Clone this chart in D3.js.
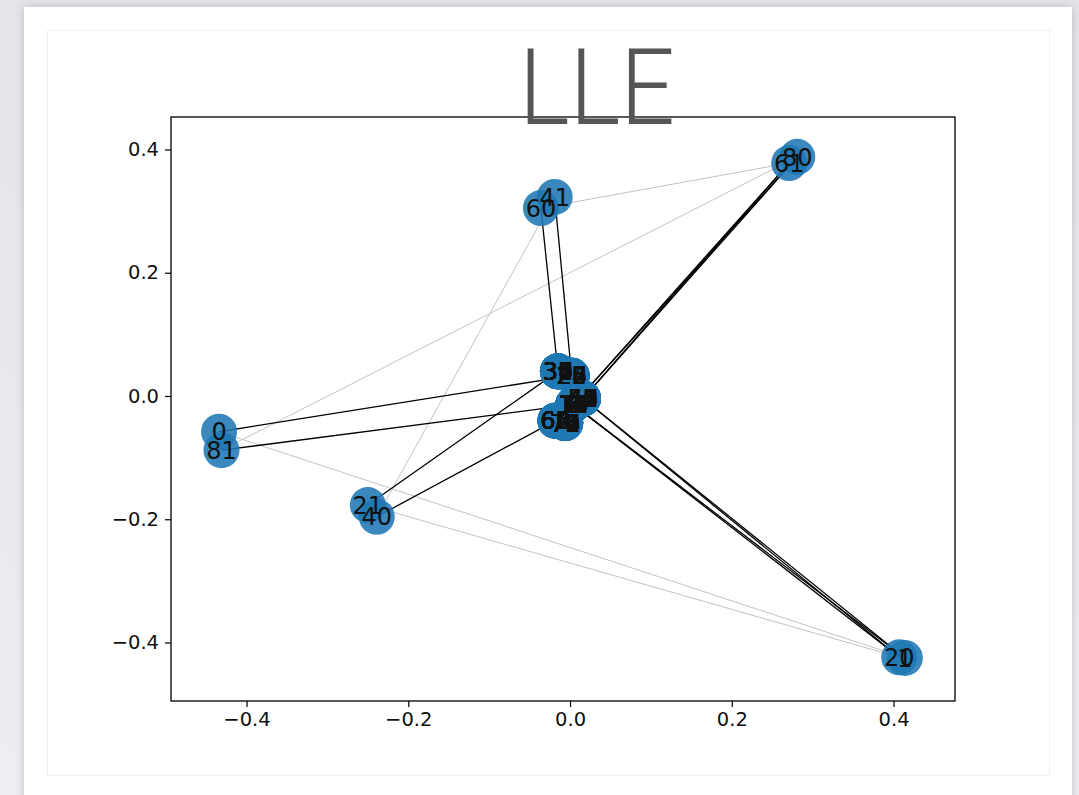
<!DOCTYPE html>
<html>
<head>
<meta charset="utf-8">
<script src="https://cdn.jsdelivr.net/npm/d3@7"></script>
<style>
  html, body { margin: 0; padding: 0; }
  body { width: 1079px; height: 795px; overflow: hidden; background: linear-gradient(#e3e5e9, #eceef1); }
</style>
</head>
<body>
<div id="chart"></div>
<script>
// node positions
const outerNodes = [
  { id: 0,  x: -0.434, y: -0.058 },
  { id: 81, x: -0.431, y: -0.088 },
  { id: 21, x: -0.250, y: -0.177 },
  { id: 40, x: -0.239, y: -0.196 },
  { id: 60, x: -0.036, y: 0.305 },
  { id: 41, x: -0.019, y: 0.323 },
  { id: 61, x: 0.271,  y: 0.378 },
  { id: 80, x: 0.281,  y: 0.388 },
  { id: 20, x: 0.407,  y: -0.424 },
  { id: 1,  x: 0.414,  y: -0.425 }
];

// the collapsed nodes in the middle
const centerGroups = [
  { key: "A", x: -0.015, y: 0.040,  ids: [30, 31, 32, 33, 34, 35, 36, 37, 38, 39] },
  { key: "B", x: 0.002,  y: 0.033,  ids: [22, 23, 24, 25, 26, 27, 28, 29] },
  { key: "C", x: 0.016,  y: -0.004, ids: [42, 43, 44, 45, 46, 47, 48, 49, 50, 51, 52, 53, 54, 55, 56, 57, 58, 59] },
  { key: "D", x: 0.004,  y: -0.014, ids: [2, 3, 4, 5, 6, 7, 8, 9, 10, 11, 12, 13, 14, 15, 16, 17, 18, 19] },
  { key: "E", x: -0.018, y: -0.040, ids: [62, 63, 64, 65, 66, 67, 68, 69] },
  { key: "F", x: -0.006, y: -0.044, ids: [70, 71, 72, 73, 74, 75, 76, 77, 78, 79] }
];

const blackEdges = [
  [0, "B"], [81, "D"], [21, "A"], [40, "E"], [60, "A"], [41, "B"],
  [61, "C"], [80, "C"], [61, "D"], [80, "D"],
  [20, "C"], [1, "C"], [20, "D"], [1, "D"]
];
const grayEdges = [[0, 1], [20, 21], [40, 41], [60, 61], [80, 81]];

const xTicks = [-0.4, -0.2, 0.0, 0.2, 0.4];
const yTicks = [-0.4, -0.2, 0.0, 0.2, 0.4];
const title = "LLE";

const W = 1079, H = 795;
const svg = d3.select("#chart").append("svg").attr("width", W).attr("height", H);

// card
const defs = svg.append("defs");
const f = defs.append("filter").attr("id", "sh").attr("x", -0.05).attr("y", -0.05).attr("width", 1.1).attr("height", 1.1);
f.append("feDropShadow").attr("dx", 0).attr("dy", 0).attr("stdDeviation", 4).attr("flood-color", "#000").attr("flood-opacity", 0.18);
svg.append("rect").attr("x", 24).attr("y", 7).attr("width", 1048).attr("height", 820)
  .attr("fill", "#fff").attr("filter", "url(#sh)");
svg.append("rect").attr("x", 47.5).attr("y", 30.5).attr("width", 1002).attr("height", 745)
  .attr("fill", "#fff").attr("stroke", "#f0f0f0");

const x = d3.scaleLinear().domain([-0.4934, 0.476]).range([171, 955]);
const y = d3.scaleLinear().domain([-0.4949, 0.4527]).range([701, 117]);

const pos = {};
outerNodes.forEach(d => pos[d.id] = d);
centerGroups.forEach(g => pos[g.key] = g);

const plot = svg.append("g");

plot.selectAll("line.gray").data(grayEdges).enter().append("line")
  .attr("x1", d => x(pos[d[0]].x)).attr("y1", d => y(pos[d[0]].y))
  .attr("x2", d => x(pos[d[1]].x)).attr("y2", d => y(pos[d[1]].y))
  .attr("stroke", "#c4c4c4").attr("stroke-width", 1);

plot.selectAll("line.black").data(blackEdges).enter().append("line")
  .attr("x1", d => x(pos[d[0]].x)).attr("y1", d => y(pos[d[0]].y))
  .attr("x2", d => x(pos[d[1]].x)).attr("y2", d => y(pos[d[1]].y))
  .attr("stroke", "#000").attr("stroke-width", 1.3);

// all nodes, center ones expanded per id
const allNodes = outerNodes.concat(
  centerGroups.flatMap(g => g.ids.map(id => ({ id: id, x: g.x, y: g.y })))
);

plot.selectAll("circle").data(allNodes).enter().append("circle")
  .attr("cx", d => x(d.x)).attr("cy", d => y(d.y)).attr("r", 18)
  .attr("fill", "#1f77b4").attr("fill-opacity", 0.88);

plot.selectAll("text.lab").data(allNodes).enter().append("text")
  .attr("x", d => x(d.x)).attr("y", d => y(d.y))
  .attr("text-anchor", "middle").attr("dy", "0.36em")
  .attr("font-family", "DejaVu Sans").attr("font-size", 24)
  .attr("fill", "#111")
  .text(d => d.id);

// axes
const fmt = d3.format(".1f");
const xa = svg.append("g").attr("transform", "translate(0,701)")
  .call(d3.axisBottom(x).tickValues(xTicks).tickFormat(fmt).tickSize(6).tickPadding(5));
const ya = svg.append("g").attr("transform", "translate(171,0)")
  .call(d3.axisLeft(y).tickValues(yTicks).tickFormat(fmt).tickSize(6).tickPadding(6));
[xa, ya].forEach(a => {
  a.select(".domain").remove();
  a.selectAll("text").attr("font-family", "DejaVu Sans").attr("font-size", 19.5).attr("fill", "#111");
  a.selectAll("line").attr("stroke", "#000").attr("stroke-width", 1.2);
});
svg.append("rect").attr("x", 171).attr("y", 117).attr("width", 784).attr("height", 584)
  .attr("fill", "none").attr("stroke", "#000").attr("stroke-width", 1.3);

// title on top of frame
svg.append("text").attr("x", 597).attr("y", 124).attr("text-anchor", "middle")
  .attr("font-family", "Roboto").attr("font-weight", 300).attr("font-size", 106)
  .attr("textLength", 156).attr("lengthAdjust", "spacingAndGlyphs")
  .attr("fill", "#555").text(title);
</script>
</body>
</html>
